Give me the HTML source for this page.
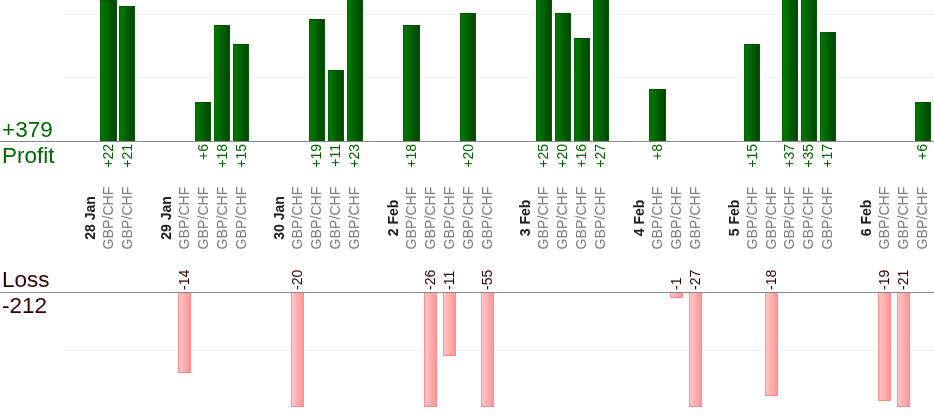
<!DOCTYPE html>
<html><head><meta charset="utf-8"><title>Profit / Loss</title>
<style>
html,body{margin:0;padding:0;background:#fff;}
body{width:934px;height:420px;overflow:hidden;position:relative;font-family:"Liberation Sans", sans-serif;}
#w{position:absolute;left:0;top:0;width:934px;height:420px;}
.a{position:absolute;}
.gl{position:absolute;left:63px;width:871px;height:1px;background:#eeeeee;}
.bl{position:absolute;left:0;width:934px;height:1px;background:#888888;}
.g{position:absolute;box-sizing:border-box;border-left:1px solid #006400;border-right:1px solid #005c00;border-top:1px solid #005400;background:linear-gradient(to right,#007a00,#004600);box-shadow:0 0 0 1px #fff;}
.p{position:absolute;box-sizing:border-box;border-left:1px solid #ff9090;border-right:1px solid #ff8c8c;border-bottom:1px solid #ff8888;background:linear-gradient(to right,#ffc6c6,#ff9696);box-shadow:0 0 0 1px #fff;}
.r{position:absolute;transform-origin:0 0;transform:rotate(-90deg);white-space:nowrap;font-size:14px;line-height:16px;will-change:transform;}
.vp{color:#006600;width:40px;text-align:right;}
.vl{color:#330000;}
.c{color:#808080;width:80px;text-align:center;letter-spacing:0.12px;}
.d{color:#1c1c1c;font-weight:bold;width:80px;text-align:center;}
.big{position:absolute;font-size:22.5px;line-height:26px;white-space:nowrap;will-change:transform;}
</style></head><body><div id="w">
<div class="gl" style="top:14px"></div>
<div class="gl" style="top:77px"></div>
<div class="gl" style="top:350px"></div>
<div class="g" style="left:100px;width:17px;top:0px;height:141px"></div>
<div class="g" style="left:119px;width:16px;top:6px;height:135px"></div>
<div class="p" style="left:178px;width:13px;top:292px;height:81px"></div>
<div class="g" style="left:195px;width:16px;top:102px;height:39px"></div>
<div class="g" style="left:214px;width:16px;top:25px;height:116px"></div>
<div class="g" style="left:233px;width:16px;top:44px;height:97px"></div>
<div class="p" style="left:291px;width:13px;top:292px;height:115px"></div>
<div class="g" style="left:309px;width:16px;top:19px;height:122px"></div>
<div class="g" style="left:328px;width:16px;top:70px;height:71px"></div>
<div class="g" style="left:347px;width:16px;top:-2px;height:143px"></div>
<div class="g" style="left:403px;width:17px;top:25px;height:116px"></div>
<div class="p" style="left:424px;width:13px;top:292px;height:115px"></div>
<div class="p" style="left:443px;width:13px;top:292px;height:64px"></div>
<div class="g" style="left:460px;width:16px;top:13px;height:128px"></div>
<div class="p" style="left:481px;width:13px;top:292px;height:115px"></div>
<div class="g" style="left:536px;width:16px;top:-2px;height:143px"></div>
<div class="g" style="left:555px;width:16px;top:13px;height:128px"></div>
<div class="g" style="left:574px;width:16px;top:38px;height:103px"></div>
<div class="g" style="left:593px;width:16px;top:-2px;height:143px"></div>
<div class="g" style="left:649px;width:17px;top:89px;height:52px"></div>
<div class="p" style="left:670px;width:13px;top:292px;height:6px"></div>
<div class="p" style="left:689px;width:13px;top:292px;height:115px"></div>
<div class="g" style="left:744px;width:16px;top:44px;height:97px"></div>
<div class="p" style="left:765px;width:13px;top:292px;height:104px"></div>
<div class="g" style="left:782px;width:16px;top:-2px;height:143px"></div>
<div class="g" style="left:801px;width:16px;top:-2px;height:143px"></div>
<div class="g" style="left:820px;width:16px;top:32px;height:109px"></div>
<div class="p" style="left:878px;width:13px;top:292px;height:109px"></div>
<div class="p" style="left:897px;width:13px;top:292px;height:115px"></div>
<div class="g" style="left:915px;width:16px;top:102px;height:39px"></div>
<div class="bl" style="top:141px"></div>
<div class="bl" style="top:292px"></div>
<div class="r vp" style="left:100px;top:184px">+22</div>
<div class="r vp" style="left:119px;top:184px">+21</div>
<div class="r vl" style="left:176px;top:290px">-14</div>
<div class="r vp" style="left:195px;top:184px">+6</div>
<div class="r vp" style="left:214px;top:184px">+18</div>
<div class="r vp" style="left:233px;top:184px">+15</div>
<div class="r vl" style="left:289px;top:290px">-20</div>
<div class="r vp" style="left:308px;top:184px">+19</div>
<div class="r vp" style="left:327px;top:184px">+11</div>
<div class="r vp" style="left:346px;top:184px">+23</div>
<div class="r vp" style="left:403px;top:184px">+18</div>
<div class="r vl" style="left:422px;top:290px">-26</div>
<div class="r vl" style="left:441px;top:290px">-11</div>
<div class="r vp" style="left:460px;top:184px">+20</div>
<div class="r vl" style="left:479px;top:290px">-55</div>
<div class="r vp" style="left:535px;top:184px">+25</div>
<div class="r vp" style="left:554px;top:184px">+20</div>
<div class="r vp" style="left:573px;top:184px">+16</div>
<div class="r vp" style="left:592px;top:184px">+27</div>
<div class="r vp" style="left:649px;top:184px">+8</div>
<div class="r vl" style="left:668px;top:290px">-1</div>
<div class="r vl" style="left:687px;top:290px">-27</div>
<div class="r vp" style="left:744px;top:184px">+15</div>
<div class="r vl" style="left:763px;top:290px">-18</div>
<div class="r vp" style="left:781px;top:184px">+37</div>
<div class="r vp" style="left:800px;top:184px">+35</div>
<div class="r vp" style="left:819px;top:184px">+17</div>
<div class="r vl" style="left:876px;top:290px">-19</div>
<div class="r vl" style="left:895px;top:290px">-21</div>
<div class="r vp" style="left:914px;top:184px">+6</div>
<div class="r d" style="left:82px;top:258px">28 Jan</div>
<div class="r c" style="left:100px;top:258px">GBP/CHF</div>
<div class="r c" style="left:119px;top:258px">GBP/CHF</div>
<div class="r d" style="left:158px;top:258px">29 Jan</div>
<div class="r c" style="left:176px;top:258px">GBP/CHF</div>
<div class="r c" style="left:195px;top:258px">GBP/CHF</div>
<div class="r c" style="left:214px;top:258px">GBP/CHF</div>
<div class="r c" style="left:233px;top:258px">GBP/CHF</div>
<div class="r d" style="left:271px;top:258px">30 Jan</div>
<div class="r c" style="left:289px;top:258px">GBP/CHF</div>
<div class="r c" style="left:308px;top:258px">GBP/CHF</div>
<div class="r c" style="left:327px;top:258px">GBP/CHF</div>
<div class="r c" style="left:346px;top:258px">GBP/CHF</div>
<div class="r d" style="left:385px;top:258px">2 Feb</div>
<div class="r c" style="left:403px;top:258px">GBP/CHF</div>
<div class="r c" style="left:422px;top:258px">GBP/CHF</div>
<div class="r c" style="left:441px;top:258px">GBP/CHF</div>
<div class="r c" style="left:460px;top:258px">GBP/CHF</div>
<div class="r c" style="left:479px;top:258px">GBP/CHF</div>
<div class="r d" style="left:517px;top:258px">3 Feb</div>
<div class="r c" style="left:535px;top:258px">GBP/CHF</div>
<div class="r c" style="left:554px;top:258px">GBP/CHF</div>
<div class="r c" style="left:573px;top:258px">GBP/CHF</div>
<div class="r c" style="left:592px;top:258px">GBP/CHF</div>
<div class="r d" style="left:631px;top:258px">4 Feb</div>
<div class="r c" style="left:649px;top:258px">GBP/CHF</div>
<div class="r c" style="left:668px;top:258px">GBP/CHF</div>
<div class="r c" style="left:687px;top:258px">GBP/CHF</div>
<div class="r d" style="left:726px;top:258px">5 Feb</div>
<div class="r c" style="left:744px;top:258px">GBP/CHF</div>
<div class="r c" style="left:763px;top:258px">GBP/CHF</div>
<div class="r c" style="left:781px;top:258px">GBP/CHF</div>
<div class="r c" style="left:800px;top:258px">GBP/CHF</div>
<div class="r c" style="left:819px;top:258px">GBP/CHF</div>
<div class="r d" style="left:858px;top:258px">6 Feb</div>
<div class="r c" style="left:876px;top:258px">GBP/CHF</div>
<div class="r c" style="left:895px;top:258px">GBP/CHF</div>
<div class="r c" style="left:914px;top:258px">GBP/CHF</div>
<div class="big" style="left:1.5px;top:117px;color:#006600">+379</div>
<div class="big" style="left:1.5px;top:143px;color:#006600">Profit</div>
<div class="big" style="left:1.5px;top:267px;color:#330000">Loss</div>
<div class="big" style="left:1.5px;top:293px;color:#330000">-212</div>
</div></body></html>
